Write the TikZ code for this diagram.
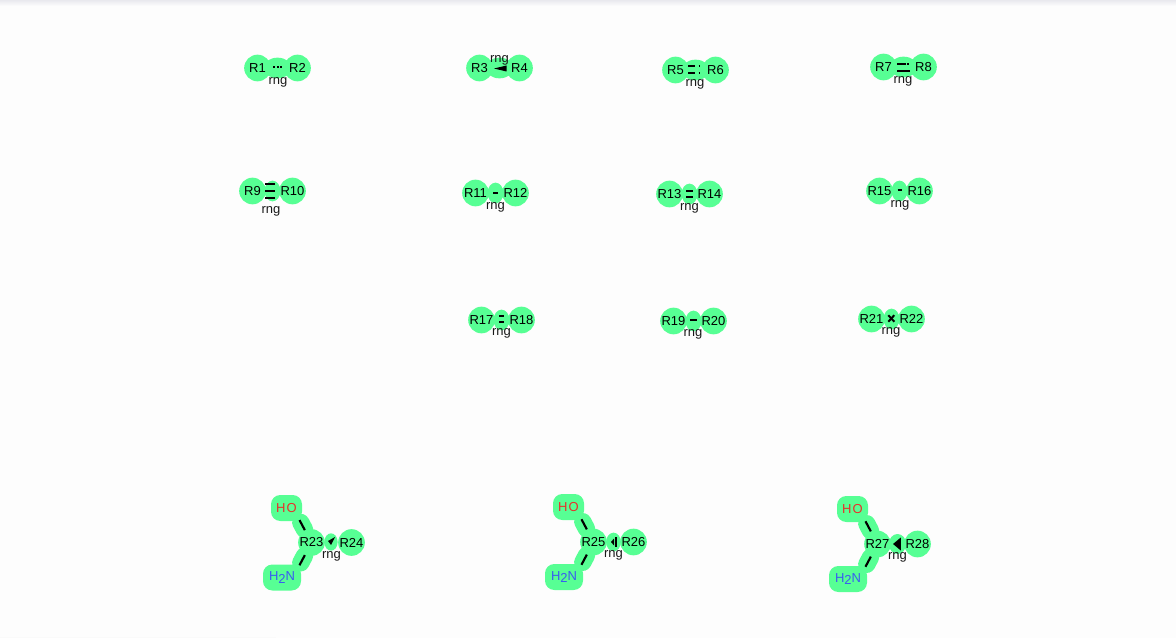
\documentclass[tikz,border=0pt]{standalone}
\usepackage{fontspec}
\setmainfont{Liberation Sans}
\newfontfamily\spacedfont[LetterSpace=9]{Liberation Sans}
\usetikzlibrary{calc,backgrounds,shapes.geometric}
\definecolor{hl}{HTML}{57FF94}
\definecolor{pagebg}{HTML}{FDFDFD}
\definecolor{shade}{HTML}{E9E9EE}
\definecolor{oxy}{HTML}{E8302B}
\definecolor{nit}{HTML}{3A5CF0}
\tikzset{
  x=0.75pt,y=-0.75pt,
  atomnode/.style={circle,fill=hl,minimum size=20pt,inner sep=0pt,font=\fontsize{9.75}{12}\selectfont},
  rnglabel/.style={inner sep=0pt,yshift=-1.5pt,font=\fontsize{9.75}{12}\selectfont,text=black!90},
  blobwide/.style={ellipse,fill=hl,minimum width=21pt,minimum height=15.5pt,inner sep=0pt},
  blobslim/.style={ellipse,fill=hl,minimum width=12pt,minimum height=15.5pt,inner sep=0pt},
  groupnode/.style={rectangle,rounded corners=7pt,fill=hl,inner sep=0pt,minimum height=19.5pt,font=\spacedfont\fontsize{9.75}{12}\selectfont},
  hlbond/.style={hl,line width=13pt,line cap=round},
  bondline/.style={black,line width=1.5pt},
  singlebond/.style={black,line width=1.6pt}
}
% \pairnodes{a}{label a}{b}{label b}{xa}{xb}{y}{label x}{label y}
\newcommand{\pairnodes}[9]{%
  \node[atomnode] (#1) at (#5,#7) {#2};
  \node[atomnode] (#3) at (#6,#7) {#4};
  \coordinate (#1m) at ($(#1)!.5!(#3)$);
  \node[rnglabel] (#1l) at (#8,#9) {rng};
}
\newcommand{\hb}[4]{\draw[bondline] ([shift={(#2,#4)}]#1m) -- ([shift={(#3,#4)}]#1m);}
\begin{document}
\begin{tikzpicture}
\useasboundingbox (0,0) rectangle (1176,638);
\pairnodes{a}{R1}{b}{R2}{257.5}{297.5}{68}{278}{80}
\pairnodes{c}{R3}{d}{R4}{479.5}{519.5}{68}{499.5}{58}
\pairnodes{e}{R5}{f}{R6}{675.5}{715.5}{70}{695}{82}
\pairnodes{g}{R7}{h}{R8}{883.5}{923.5}{67}{903}{79}
\pairnodes{i}{R9}{j}{R10}{252.5}{292.5}{191}{271}{209}
\pairnodes{k}{R11}{l}{R12}{475.5}{515.5}{193}{495.5}{205}
\pairnodes{m}{R13}{n}{R14}{669.5}{709.5}{194}{689.5}{206}
\pairnodes{o}{R15}{p}{R16}{879.5}{919.5}{191}{900}{203}
\pairnodes{q}{R17}{r}{R18}{481.5}{521.5}{320}{501.5}{331}
\pairnodes{s}{R19}{t}{R20}{673.5}{713.5}{321}{693}{332}
\pairnodes{u}{R21}{v}{R22}{871.5}{911.5}{319}{891}{330}
\pairnodes{w}{R23}{x}{R24}{311.5}{351.5}{542.5}{331.5}{554}
\pairnodes{y}{R25}{z}{R26}{593.5}{633.5}{542}{613.5}{553}
\pairnodes{aa}{R27}{ab}{R28}{877.5}{917.5}{544}{897.5}{555}
% functional groups
\node[groupnode,minimum width=23.25pt,text=oxy] (ho1) at (286.5,508) {HO};
\node[groupnode,minimum width=28.5pt,text=nit] (nh1) at (282,577.5) {H\raisebox{-2.2pt}{2}N};
\node[groupnode,minimum width=23.25pt,text=oxy] (ho2) at (568.5,507) {HO};
\node[groupnode,minimum width=28.5pt,text=nit] (nh2) at (564,577) {H\raisebox{-2.2pt}{2}N};
\node[groupnode,minimum width=23.25pt,text=oxy] (ho3) at (852.5,509) {HO};
\node[groupnode,minimum width=28.5pt,text=nit] (nh3) at (848,579) {H\raisebox{-2.2pt}{2}N};
% bond anchors on the O and N letters
\foreach \g/\d in {ho1/6.5,ho2/6.5,ho3/6.5,nh1/11,nh2/11,nh3/11}
  \coordinate (\g a) at ([shift={(\d,0)}]\g);
% highlights behind
\begin{scope}[on background layer]
  \fill[pagebg] (0,0) rectangle (1176,638);
  \shade[top color=shade,bottom color=pagebg] (0,0) rectangle (1176,6);
  \fill[black!2] (0,636.5) rectangle (276,638);
  \foreach \n in {a,c,e,g} \node[blobwide] at (\n m) {};
  \foreach \n in {i,k,m,o,q,s,u} \node[blobslim] at (\n m) {};
  \node[blobslim,minimum height=13pt,minimum width=10pt] at ($(wm)+(-0.5,-0.5)$) {};
  \node[blobslim,minimum height=14pt,minimum width=11pt] at (ym) {};
  \node[blobslim,minimum height=15pt,minimum width=13pt] at (aam) {};
  \foreach \g/\c in {ho1/w,nh1/w,ho2/y,nh2/y,ho3/aa,nh3/aa}
    \draw[hlbond] ($(\g a)!.42!(\c)$) -- ($(\g a)!.62!(\c)$);
\end{scope}
% bond marks
\foreach \d in {-3.5,0,3.5} \fill[black] ([shift={(\d-1,-1.7)}]am) rectangle ([shift={(\d+1,0.4)}]am);
\fill[black] ([shift={(-5.5,0.5)}]cm) -- ([shift={(7,-2.5)}]cm) -- ([shift={(7,3.5)}]cm) -- cycle;
\hb{e}{-7.5}{-0.5}{-3.5} \hb{e}{-7.5}{-0.5}{2.7} \hb{e}{3}{4.8}{-3.5} \hb{e}{3}{4.8}{2.7}
\hb{g}{-6.5}{2}{-2.7} \hb{g}{3.6}{5}{-2.7} \hb{g}{-6.5}{6.5}{4}
\hb{i}{-7.5}{2.5}{-6.7} \hb{i}{-7.5}{2.5}{0} \hb{i}{-7.5}{2.5}{6.7}
\hb{k}{-2.2}{2.2}{0}
\hb{m}{-3.5}{3.2}{-3} \hb{m}{-3.5}{3.2}{3}
\hb{o}{-1.8}{2.2}{-1}
\hb{q}{-2.5}{2.8}{-4.3} \hb{q}{-2.5}{2.8}{1.7}
\hb{s}{-3.5}{3.2}{-1.3}
\draw[bondline] ([shift={(-3.2,-3.8)}]um) -- ([shift={(2.8,2.7)}]um);
\draw[bondline] ([shift={(2.8,-3.8)}]um) -- ([shift={(-3.2,2.7)}]um);
\fill[black] ([shift={(-3.5,-1.5)}]wm) -- ([shift={(3.5,-5.5)}]wm) -- ([shift={(-0.5,2.5)}]wm) -- cycle;
\fill[black] ([shift={(-2.5,0)}]ym) -- ([shift={(0.5,-3.5)}]ym) -- ([shift={(0.5,3.5)}]ym) -- cycle;
\draw[black,line width=1.1pt] ([shift={(2.5,-5)}]ym) -- ([shift={(2.5,5)}]ym);
\fill[black] ([shift={(-4.5,0)}]aam) -- ([shift={(3.3,-6.5)}]aam) -- ([shift={(3.3,6.5)}]aam) -- cycle;
% single bonds to functional groups
\foreach \g/\c in {ho1/w,nh1/w,ho2/y,nh2/y,ho3/aa,nh3/aa}
  \draw[singlebond] ($(\g a)!.35!(\c)$) -- ($(\g a)!.64!(\c)$);
\end{tikzpicture}
\end{document}
